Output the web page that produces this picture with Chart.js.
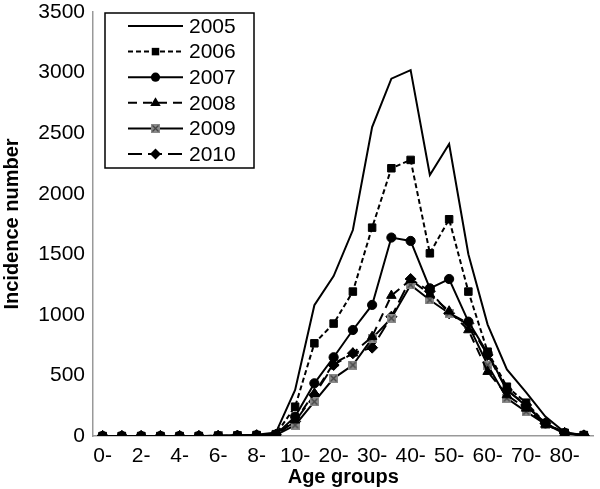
<!DOCTYPE html>
<html>
<head>
<meta charset="utf-8">
<script src="https://cdn.jsdelivr.net/npm/chart.js@4/dist/chart.umd.min.js"></script>
<style>
  html, body { margin: 0; padding: 0; background: #fff; }
  #wrap { width: 600px; height: 489px; }
</style>
</head>
<body>
<div id="wrap"><canvas id="chart" width="600" height="489"></canvas></div>
<script>
// age groups (x categories), only every other one gets a label
const ageGroups = ["0-", "1-", "2-", "3-", "4-", "5-", "6-", "7-", "8-", "9-",
  "10-", "15-", "20-", "25-", "30-", "35-", "40-", "45-", "50-", "55-",
  "60-", "65-", "70-", "75-", "80-", "85-"];

const years = ["2005", "2006", "2007", "2008", "2009", "2010"];

// incidence numbers per year
const cases2005 = [0, 0, 0, 0, 0, 0, 2, 5, 10, 28, 380, 1080, 1320, 1700, 2550, 2950, 3020, 2155, 2410, 1500, 920, 550, 360, 160, 30, 8];
const cases2006 = [0, 0, 0, 0, 0, 0, 2, 4, 8, 15, 242, 765, 928, 1192, 1720, 2210, 2279, 1508, 1789, 1192, 696, 407, 275, 105, 27, 8];
const cases2007 = [0, 0, 0, 0, 0, 0, 1, 3, 6, 12, 160, 435, 650, 875, 1082, 1638, 1610, 1219, 1296, 944, 683, 380, 248, 105, 25, 5];
const cases2008 = [0, 0, 0, 0, 0, 0, 1, 3, 6, 10, 130, 352, 600, 683, 820, 1159, 1290, 1170, 1030, 875, 531, 338, 228, 95, 25, 5];
const cases2009 = [0, 0, 0, 0, 0, 0, 1, 2, 5, 8, 90, 283, 476, 586, 806, 972, 1247, 1123, 1013, 917, 586, 311, 201, 99, 20, 5];
const cases2010 = [0, 0, 0, 0, 0, 0, 1, 3, 6, 10, 120, 339, 586, 683, 729, 985, 1296, 1195, 1013, 930, 669, 380, 256, 105, 25, 5];

const yTicks = { min: 0, max: 3500, step: 500 };

const FONT = "'Liberation Sans', Arial, Helvetica, sans-serif";

// grey square with an x in it, used for 2009
function crossBox() {
  const c = document.createElement("canvas");
  c.width = 9; c.height = 9;
  const g = c.getContext("2d");
  g.fillStyle = "#8a8a8a";
  g.fillRect(0, 0, 9, 9);
  g.strokeStyle = "#444";
  g.lineWidth = 1.3;
  g.beginPath();
  g.moveTo(1.5, 1.5); g.lineTo(7.5, 7.5);
  g.moveTo(7.5, 1.5); g.lineTo(1.5, 7.5);
  g.stroke();
  return c;
}
const box2009 = crossBox();

const seriesData = [cases2005, cases2006, cases2007, cases2008, cases2009, cases2010];
const styles = [
  { dash: [], point: "circle", radius: 0 },
  { dash: [5, 3], point: "rect", radius: 5.3 },
  { dash: [], point: "circle", radius: 4.6 },
  { dash: [9, 6], point: "triangle", radius: 5.5 },
  { dash: [], point: box2009, radius: 4.5 },
  { dash: [14, 6], point: "rectRot", radius: 5.5 }
];

const datasets = years.map((y, i) => ({
  label: y,
  data: seriesData[i],
  borderColor: "#000",
  backgroundColor: "#000",
  borderWidth: 2,
  borderDash: styles[i].dash,
  pointStyle: styles[i].point,
  pointRadius: styles[i].radius,
  pointBorderWidth: 1,
  pointBackgroundColor: "#000",
  pointBorderColor: "#000",
  tension: 0
}));

// marker for the legend, same shapes as in the plot
function drawMarker(ctx, style, r, x, y) {
  ctx.save();
  ctx.setLineDash([]);
  ctx.fillStyle = "#000";
  ctx.beginPath();
  if (style instanceof HTMLCanvasElement) {
    ctx.drawImage(style, x - style.width / 2, y - style.height / 2);
  } else if (style === "rect") {
    const s = r * Math.SQRT1_2;
    ctx.fillRect(x - s, y - s, 2 * s, 2 * s);
  } else if (style === "circle") {
    if (r > 0) { ctx.arc(x, y, r, 0, Math.PI * 2); ctx.fill(); }
  } else if (style === "triangle") {
    ctx.moveTo(x, y - r);
    ctx.lineTo(x + r * 0.95, y + r * 0.6);
    ctx.lineTo(x - r * 0.95, y + r * 0.6);
    ctx.closePath(); ctx.fill();
  } else if (style === "rectRot") {
    ctx.moveTo(x, y - r); ctx.lineTo(x + r, y);
    ctx.lineTo(x, y + r); ctx.lineTo(x - r, y);
    ctx.closePath(); ctx.fill();
  }
  ctx.restore();
}

const boxLegend = {
  id: "boxLegend",
  afterDraw(chart) {
    const ctx = chart.ctx;
    const left = 105, top = 13, w = 149, h = 155;
    ctx.save();
    ctx.fillStyle = "#fff";
    ctx.fillRect(left, top, w, h);
    ctx.strokeStyle = "#000";
    ctx.lineWidth = 1.5;
    ctx.strokeRect(left, top, w, h);
    chart.data.datasets.forEach((ds, i) => {
      const y = 26 + i * 25.6;
      ctx.strokeStyle = "#000";
      ctx.lineWidth = 2;
      ctx.setLineDash(ds.borderDash);
      ctx.beginPath();
      ctx.moveTo(128, y);
      ctx.lineTo(183, y);
      ctx.stroke();
      drawMarker(ctx, ds.pointStyle, ds.pointRadius, 155.5, y);
      ctx.setLineDash([]);
      ctx.fillStyle = "#000";
      ctx.font = "21px " + FONT;
      ctx.textBaseline = "middle";
      ctx.textAlign = "left";
      ctx.fillText(ds.label, 189, y + 1);
    });
    ctx.restore();
  }
};

new Chart(document.getElementById("chart"), {
  type: "line",
  data: { labels: ageGroups, datasets: datasets },
  options: {
    responsive: false,
    animation: false,
    layout: { padding: { top: 12, right: 3, bottom: 0, left: 0 } },
    plugins: { legend: { display: false }, tooltip: { enabled: false } },
    scales: {
      x: {
        offset: true,
        grid: { display: false, drawTicks: false },
        border: { color: "#999", width: 1.5 },
        ticks: {
          autoSkip: false,
          maxRotation: 0,
          padding: 8,
          color: "#000",
          font: { family: FONT, size: 21 },
          callback: (v, i) => (i % 2 === 0 ? ageGroups[i] : "")
        },
        title: {
          display: true,
          text: "Age groups",
          color: "#000",
          font: { family: FONT, size: 20, weight: "bold" },
          padding: { top: 0, bottom: 0 }
        },
        afterFit: (s) => { s.height = 53; s.paddingLeft = 0; s.paddingRight = 0; }
      },
      y: {
        min: yTicks.min,
        max: yTicks.max,
        grid: { display: false, drawTicks: false },
        border: { color: "#999", width: 1.5 },
        ticks: {
          stepSize: yTicks.step,
          padding: 8,
          color: "#000",
          font: { family: FONT, size: 21 },
          callback: (v) => String(v)
        },
        title: {
          display: true,
          text: "Incidence number",
          color: "#000",
          font: { family: FONT, size: 20, weight: "bold" },
          padding: { top: 0, bottom: 0 }
        },
        afterFit: (s) => { s.width = 93; s.paddingTop = 0; s.paddingBottom = 0; }
      }
    }
  },
  plugins: [boxLegend]
});
</script>
</body>
</html>
